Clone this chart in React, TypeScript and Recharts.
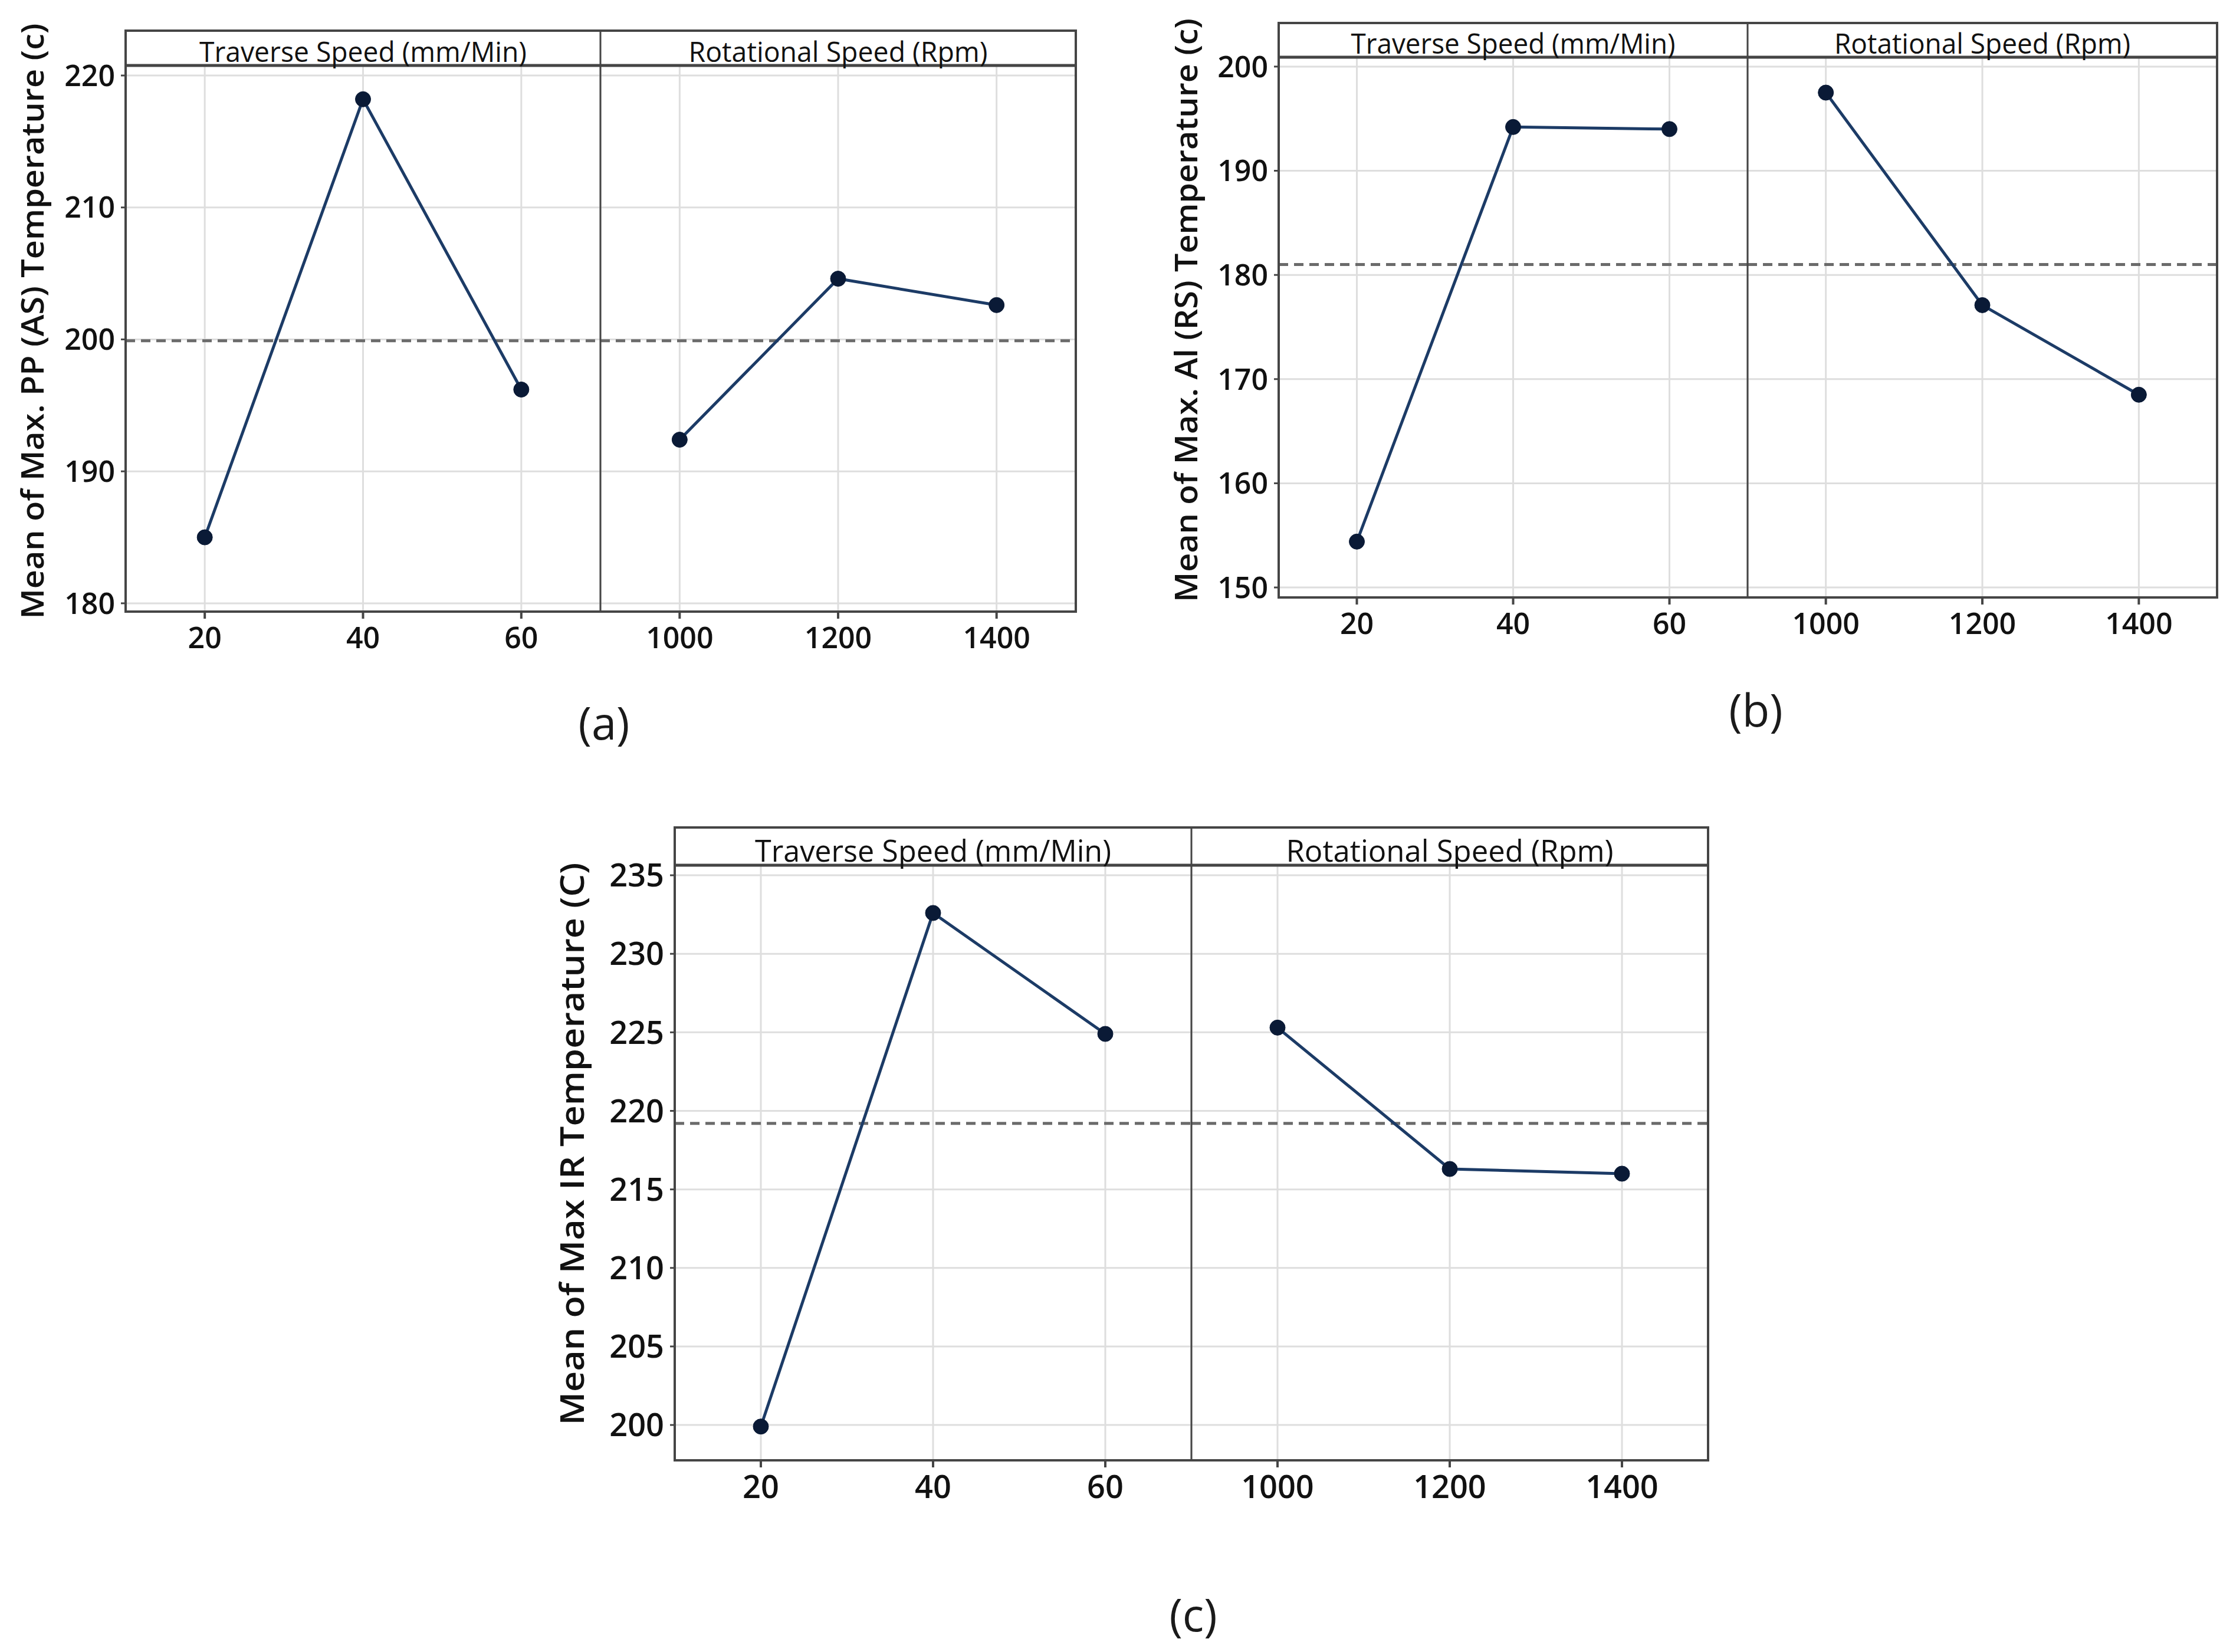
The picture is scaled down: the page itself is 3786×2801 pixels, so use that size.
import { LineChart, Line, XAxis, YAxis, CartesianGrid, ReferenceLine } from 'recharts'

// factor levels
const traverseLevels = [20, 40, 60]
const rotationalLevels = [1000, 1200, 1400]

// (a) PP (AS) temperature
const ppTraverse = [185.0, 218.2, 196.2]
const ppRotational = [192.4, 204.6, 202.6]
const ppMean = 199.9
const ppTicks = [180, 190, 200, 210, 220]

// (b) Al (RS) temperature
const alTraverse = [154.4, 194.2, 194.0]
const alRotational = [197.5, 177.1, 168.5]
const alMean = 181.0
const alTicks = [150, 160, 170, 180, 190, 200]

// (c) IR temperature
const irTraverse = [199.9, 232.6, 224.9]
const irRotational = [225.3, 216.3, 216.0]
const irMean = 219.2
const irTicks = [200, 205, 210, 215, 220, 225, 230, 235]

const headerLabels = ['Traverse Speed (mm/Min)', 'Rotational Speed (Rpm)']

const FONT = '"Open Sans", "Noto Sans", sans-serif'
const LINE = '#1c3b66'
const DOT = '#0a1a36'
const FRAME = '#454545'
const GRID = '#dedede'
const YW = 250
const XH = 110
const TOP_PAD = 120

const toRows = (levels: number[], values: number[]) =>
  levels.map((level, i) => ({ level, value: values[i] }))

interface SubProps {
  x: number
  plotTop: number
  plotW: number
  plotH: number
  levels: number[]
  values: number[]
  xDomain: [number, number]
  yDomain: [number, number]
  yTicks: number[]
  mean: number
  fontSize: number
  yTitle?: string
  titleOffset?: number
  titleDy?: number
  titleLen?: number
  titleSize?: number
}

function SubChart(p: SubProps) {
  const showY = !!p.yTitle
  const left = showY ? p.x - YW : p.x
  const width = p.plotW + (showY ? YW : 0)
  const tickStyle = { fontSize: p.fontSize, fill: '#111', fontFamily: FONT, fontWeight: 600 }
  return (
    <div style={{ position: 'absolute', left, top: p.plotTop - TOP_PAD }}>
      <LineChart
        width={width}
        height={p.plotH + XH + TOP_PAD}
        data={toRows(p.levels, p.values)}
        margin={{ top: TOP_PAD, right: 0, bottom: 0, left: 0 }}
      >
        <CartesianGrid stroke={GRID} strokeWidth={3} />
        <XAxis
          dataKey="level"
          type="number"
          domain={p.xDomain}
          ticks={p.levels}
          allowDataOverflow
          height={XH}
          tickSize={12}
          tickMargin={14}
          axisLine={false}
          tickLine={{ stroke: FRAME, strokeWidth: 4 }}
          tick={tickStyle}
        />
        <YAxis
          type="number"
          domain={p.yDomain}
          ticks={p.yTicks}
          allowDataOverflow
          hide={!showY}
          width={YW}
          tickSize={8}
          tickMargin={10}
          axisLine={false}
          tickLine={{ stroke: FRAME, strokeWidth: 3 }}
          tick={tickStyle}
          label={
            showY
              ? {
                  content: (lp: any) => {
                    const vb = lp.viewBox
                    const cx = vb.x + YW - (p.titleOffset ?? 160)
                    const cy = vb.y + vb.height / 2 + (p.titleDy ?? 0)
                    return (
                      <text
                        x={cx}
                        y={cy}
                        transform={`rotate(-90, ${cx}, ${cy})`}
                        textAnchor="middle"
                        dominantBaseline="central"
                        textLength={p.titleLen}
                        lengthAdjust="spacingAndGlyphs"
                        style={{ fontFamily: FONT, fontSize: p.titleSize, fontWeight: 600, fill: '#111' }}
                      >
                        {p.yTitle}
                      </text>
                    )
                  },
                }
              : undefined
          }
        />
        <ReferenceLine y={p.mean} stroke="#6b6b6b" strokeWidth={5} strokeDasharray="16 10" />
        <Line
          type="linear"
          dataKey="value"
          stroke={LINE}
          strokeWidth={5}
          dot={{ r: 13, fill: DOT, stroke: DOT, strokeWidth: 1 }}
          isAnimationActive={false}
        />
      </LineChart>
    </div>
  )
}

interface PanelProps {
  left: number
  divider: number
  right: number
  headerTop: number
  plotTop: number
  plotBottom: number
  yDomain: [number, number]
  yTicks: number[]
  mean: number
  traverse: number[]
  rotational: number[]
  yTitle: string
  titleOffset: number
  titleLen: number
  titleSize: number
  fontSize: number
  headerSize: number
  headerLens: [number, number]
}

function Panel(p: PanelProps) {
  const plotH = p.plotBottom - p.plotTop
  const titleDy = (p.headerTop + p.plotBottom) / 2 - (p.plotTop + p.plotBottom) / 2
  return (
    <>
      <SubChart
        x={p.left}
        plotTop={p.plotTop}
        plotW={p.divider - p.left}
        plotH={plotH}
        levels={traverseLevels}
        values={p.traverse}
        xDomain={[10, 70]}
        yDomain={p.yDomain}
        yTicks={p.yTicks}
        mean={p.mean}
        fontSize={p.fontSize}
        yTitle={p.yTitle}
        titleOffset={p.titleOffset}
        titleDy={titleDy}
        titleLen={p.titleLen}
        titleSize={p.titleSize}
      />
      <SubChart
        x={p.divider}
        plotTop={p.plotTop}
        plotW={p.right - p.divider}
        plotH={plotH}
        levels={rotationalLevels}
        values={p.rotational}
        xDomain={[900, 1500]}
        yDomain={p.yDomain}
        yTicks={p.yTicks}
        mean={p.mean}
        fontSize={p.fontSize}
      />
    </>
  )
}

function Frame(p: PanelProps) {
  const headerBase = p.plotTop - 6
  const centers = [(p.left + p.divider) / 2, (p.divider + p.right) / 2]
  return (
    <g>
      <rect
        x={p.left}
        y={p.headerTop}
        width={p.right - p.left}
        height={p.plotBottom - p.headerTop}
        fill="none"
        stroke={FRAME}
        strokeWidth={4}
      />
      <line x1={p.left} x2={p.right} y1={p.plotTop} y2={p.plotTop} stroke={FRAME} strokeWidth={5} />
      <line x1={p.divider} x2={p.divider} y1={p.headerTop} y2={p.plotBottom} stroke={FRAME} strokeWidth={3} />
      {headerLabels.map((label, i) => (
        <text
          key={label}
          x={centers[i]}
          y={headerBase}
          textAnchor="middle"
          textLength={p.headerLens[i]}
          lengthAdjust="spacingAndGlyphs"
          style={{ fontFamily: FONT, fontSize: p.headerSize, fontWeight: 500, fill: '#111' }}
        >
          {label}
        </text>
      ))}
    </g>
  )
}

const panelA: PanelProps = {
  left: 213,
  divider: 1018,
  right: 1824,
  headerTop: 52,
  plotTop: 111,
  plotBottom: 1037,
  yDomain: [179.37, 220.76],
  yTicks: ppTicks,
  mean: ppMean,
  traverse: ppTraverse,
  rotational: ppRotational,
  yTitle: 'Mean of Max. PP (AS) Temperature (c)',
  titleOffset: 160,
  titleLen: 1010,
  titleSize: 52,
  fontSize: 50,
  headerSize: 48,
  headerLens: [555, 507],
}

const panelB: PanelProps = {
  left: 2168,
  divider: 2963,
  right: 3759,
  headerTop: 39,
  plotTop: 97,
  plotBottom: 1013,
  yDomain: [149.04, 200.9],
  yTicks: alTicks,
  mean: alMean,
  traverse: alTraverse,
  rotational: alRotational,
  yTitle: 'Mean of Max. Al (RS) Temperature (c)',
  titleOffset: 159,
  titleLen: 990,
  titleSize: 52,
  fontSize: 50,
  headerSize: 48,
  headerLens: [550, 502],
}

const panelC: PanelProps = {
  left: 1144,
  divider: 2020,
  right: 2896,
  headerTop: 1403,
  plotTop: 1467,
  plotBottom: 2476,
  yDomain: [197.75, 235.64],
  yTicks: irTicks,
  mean: irMean,
  traverse: irTraverse,
  rotational: irRotational,
  yTitle: 'Mean of Max IR Temperature (C)',
  titleOffset: 176,
  titleLen: 954,
  titleSize: 56,
  fontSize: 54,
  headerSize: 52,
  headerLens: [604, 555],
}

const captions = [
  { text: '(a)', x: 1024, y: 1224 },
  { text: '(b)', x: 2977, y: 1202 },
  { text: '(c)', x: 2023, y: 2736 },
]

export default function App() {
  const panels = [panelA, panelB, panelC]
  return (
    <div style={{ position: 'absolute', left: 0, top: 0, width: 3786, height: 2801, background: '#fff', overflow: 'hidden' }}>
      {panels.map((p, i) => (
        <Panel key={i} {...p} />
      ))}
      <svg
        width={3786}
        height={2801}
        style={{ position: 'absolute', left: 0, top: 0, pointerEvents: 'none' }}
      >
        {panels.map((p, i) => (
          <Frame key={i} {...p} />
        ))}
        {captions.map((c) => (
          <text
            key={c.text}
            x={c.x}
            y={c.y}
            textAnchor="middle"
            dominantBaseline="central"
            style={{ fontFamily: FONT, fontSize: 76, fill: '#1a1a1a' }}
          >
            {c.text}
          </text>
        ))}
      </svg>
    </div>
  )
}
